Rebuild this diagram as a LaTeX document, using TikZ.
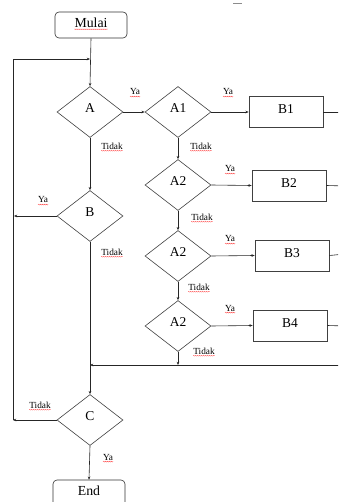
\documentclass[tikz,border=0pt]{standalone}
\usepackage{fontspec}
\setmainfont{Liberation Serif}
\usetikzlibrary{shapes.geometric,arrows.meta,decorations.pathmorphing}

\tikzset{
  flow/.style={draw=black!85, line width=0.6pt},
  arr/.style={flow, -{Stealth[length=3.2pt,width=2.6pt]}},
  decision/.style={diamond, draw=black!75, line width=0.6pt, inner sep=0pt,
    minimum width=66pt, minimum height=51pt,
    font=\fontsize{13.5}{15}\selectfont, text depth=7pt},
  process/.style={rectangle, draw=black!75, line width=0.7pt, inner sep=0pt,
    minimum width=74pt, minimum height=31pt,
    font=\fontsize{13.5}{15}\selectfont, text depth=5pt},
  terminal/.style={rectangle, rounded corners=4pt, draw=black!80, line width=0.6pt,
    inner sep=0pt, minimum width=72pt, minimum height=26pt},
  maintext/.style={inner sep=0pt, font=\fontsize{13.8}{15}\selectfont},
  answer/.style={inner sep=0pt, font=\fontsize{9.3}{10}\selectfont},
  spell/.style={red!75, line width=0.3pt, decorate,
    decoration={snake, amplitude=0.45pt, segment length=2pt}},
}
% red spell-check squiggle under a text node
\newcommand\squiggle[1]{\draw[spell] ([yshift=-1.6pt]#1.base west) -- ([yshift=-1.6pt]#1.base east);}

\begin{document}
\begin{tikzpicture}[x=1pt, y=-1pt]
\useasboundingbox (0,0) rectangle (338,502);
\clip (0,0) rectangle (338,502);

% stray mark at the top
\draw[black!45, line width=0.6pt] (233,3) -- (242,3);

% start and end
\node[terminal] (Mulai) at (91,25) {};
\node[maintext] (tMulai) at (91,23) {Mulai};
\node[terminal] (End) at (89,493) {};
\node[maintext] (tEnd) at (89,491) {End};

% main column of decisions
\node[decision] (A) at (90,112) {A};
\node[decision] (B) at (90,216) {B};
\node[decision] (C) at (90,420) {C};

% nested decisions
\node[decision] (A1)  at (178,112) {A1};
\node[decision] (A2a) at (178,185) {A2};
\node[decision] (A2b) at (178,256) {A2};
\node[decision] (A2c) at (178,326) {A2};

% processes
\node[process] (B1) at (286,112) {B1};
\node[process] (B2) at (289,185.5) {B2};
\node[process] (B3) at (292,255.5) {B3};
\node[process] (B4) at (290,325.5) {B4};

% junction points
\coordinate (jtop) at (90,59);
\coordinate (ltop) at (13,59);
\coordinate (lbot) at (13,420);
\coordinate (bleft) at (14,216);
\coordinate (jbot) at (90,365);
\coordinate (jmid) at (178,365);
\coordinate (rbot) at (345,365);
\coordinate (r1) at (345,112);
\coordinate (r2) at (345,186);
\coordinate (r3) at (345,254);
\coordinate (r4) at (345,326);

% main spine
\draw[arr] (Mulai.south) -- (A.north);
\draw[arr] (A.south) -- (B.north);
\draw[arr] (B.south) -- (C.north);
\draw[arr] (C.south) -- (End.north);

% loop back from C
\draw[arr] (C.west) -- (lbot);
\draw[arr] (lbot) -- (ltop) -- (jtop);
\draw[arr] (B.west) -- (bleft);

% nested branch
\draw[arr] (A.east) -- (A1.west);
\draw[arr] (A1.south) -- (A2a.north);
\draw[arr] (A2a.south) -- (A2b.north);
\draw[arr] (A2b.south) -- (A2c.north);
\draw[arr] (A2c.south) -- (jmid);
\draw[arr] (A1.east) -- (B1.west);
\draw[arr] (A2a.east) -- (B2.west);
\draw[arr] (A2b.east) -- (B3.west);
\draw[arr] (A2c.east) -- (B4.west);

% process outputs leaving to the right and return line
\draw[flow] (B1.east) -- (r1);
\draw[flow] (B2.east) -- (r2);
\draw[flow] (B3.east) -- (r3);
\draw[flow] (B4.east) -- (r4);
\draw[arr] (rbot) -- (jbot);

% answers
\node[answer] (yA)   at (135,92)  {Ya};
\node[answer] (yA1)  at (228,92)  {Ya};
\node[answer] (yA2a) at (230,169) {Ya};
\node[answer] (yA2b) at (230,239) {Ya};
\node[answer] (yA2c) at (230,308) {Ya};
\node[answer] (yB)   at (43,200)  {Ya};
\node[answer] (yC)   at (108,457) {Ya};
\node[answer] (nA)   at (112,146) {Tidak};
\node[answer] (nA1)  at (201,146) {Tidak};
\node[answer] (nA2a) at (202,217) {Tidak};
\node[answer] (nA2b) at (199,287) {Tidak};
\node[answer] (nA2c) at (204,351) {Tidak};
\node[answer] (nB)   at (112,252) {Tidak};
\node[answer] (nC)   at (40,405)  {Tidak};

\squiggle{tMulai}
\squiggle{yA}\squiggle{yA1}\squiggle{yA2a}\squiggle{yA2b}\squiggle{yA2c}
\squiggle{yB}\squiggle{yC}
\squiggle{nA}\squiggle{nA1}\squiggle{nA2a}\squiggle{nA2b}\squiggle{nA2c}
\squiggle{nB}\squiggle{nC}
\end{tikzpicture}
\end{document}
